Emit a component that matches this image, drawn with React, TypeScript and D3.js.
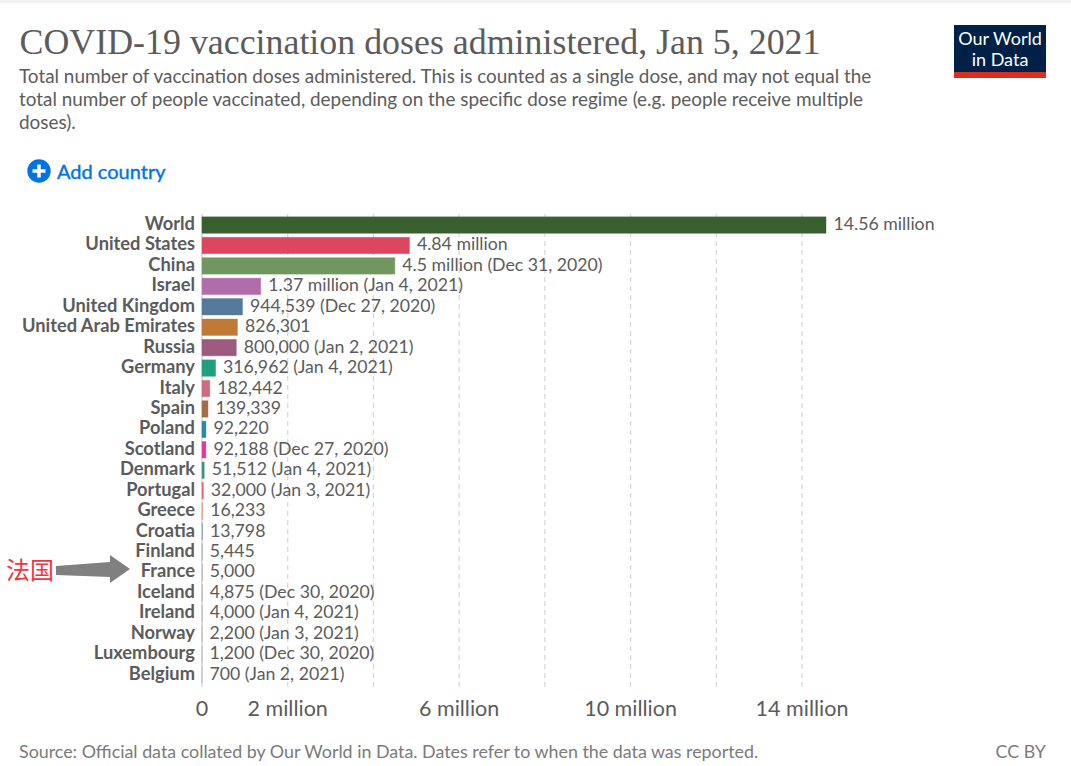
import React from "react";
import * as d3 from "d3";

const countries = ["World","United States","China","Israel","United Kingdom","United Arab Emirates","Russia","Germany","Italy","Spain","Poland","Scotland","Denmark","Portugal","Greece","Croatia","Finland","France","Iceland","Ireland","Norway","Luxembourg","Belgium"];
const doses = [14560000,4840000,4500000,1370000,944539,826301,800000,316962,182442,139339,92220,92188,51512,32000,16233,13798,5445,5000,4875,4000,2200,1200,700];
const doseLabels = ["14.56 million","4.84 million","4.5 million","1.37 million","944,539","826,301","800,000","316,962","182,442","139,339","92,220","92,188","51,512","32,000","16,233","13,798","5,445","5,000","4,875","4,000","2,200","1,200","700"];
const dates = ["","","Dec 31, 2020","Jan 4, 2021","Dec 27, 2020","","Jan 2, 2021","Jan 4, 2021","","","","Dec 27, 2020","Jan 4, 2021","Jan 3, 2021","","","","","Dec 30, 2020","Jan 4, 2021","Jan 3, 2021","Dec 30, 2020","Jan 2, 2021"];
const colors = ["#38602f","#de4660","#71965f","#b16daa","#54799b","#c07a36","#9c5a7e","#219e7d","#cf6a80","#a86a48","#2c85ab","#d83f9c","#3f8f80","#e8607a","#d99a78","#7f93c0","#999","#999","#999","#999","#999","#999","#999"];
const tickValues = [0,2e6,6e6,10e6,14e6];
const tickLabels = ["0","2 million","6 million","10 million","14 million"];
const gridValues = [2e6,4e6,6e6,8e6,10e6,12e6,14e6];
const subtitle = [
  "Total number of vaccination doses administered. This is counted as a single dose, and may not equal the",
  "total number of people vaccinated, depending on the specific dose regime (e.g. people receive multiple",
  "doses).",
];

const LATO = "Lato, sans-serif";
const GREY = "#5b5b5b";

export default function App() {
  const x = d3.scaleLinear().domain([0, 14e6]).range([202, 802]);
  const y = d3.scalePoint<string>().domain(countries).range([224.05, 673.55]);
  const barH = 16.4;
  const arrow = d3.line()([[56,566],[110,562],[110,555],[130,569],[110,583],[110,577],[56,575]]) + "Z";
  return (
    <svg width={1071} height={766} style={{ position: "absolute", left: 0, top: 0, background: "#fff" }} fontFamily={LATO}>
      <rect x={0} y={0} width={1071} height={3} fill="#f2f2f2" />
      <text x={19.5} y={54} fontFamily="'Liberation Serif', serif" fontSize={36} fill={GREY} textLength={801} lengthAdjust="spacingAndGlyphs">COVID-19 vaccination doses administered, Jan 5, 2021</text>
      {subtitle.map((s, i) => (
        <text key={i} x={19} y={82.5 + i * 23} fontSize={18.9} fill={GREY}>{s}</text>
      ))}
      <rect x={954} y={25} width={92} height={53} fill="#002147" />
      <rect x={954} y={72} width={92} height={6} fill="#dc2e1f" />
      <text textAnchor="middle" fontSize={18} fill="#fff">
        <tspan x={1000} y={45}>Our World</tspan>
        <tspan x={1000} y={65.7}>in Data</tspan>
      </text>
      <circle cx={39} cy={171} r={11.7} fill="#0073e6" />
      <path d="M39 164.5V177.5M32.5 171H45.5" stroke="#fff" strokeWidth={3.5} />
      <text x={57} y={178.5} fontSize={20} fill="#0073e6" stroke="#0073e6" strokeWidth={0.4}>Add country</text>

      {gridValues.map((v) => (
        <line key={v} x1={x(v)} x2={x(v)} y1={214} y2={687} stroke="#d8d8d8" strokeWidth={1.3} strokeDasharray="5,4" />
      ))}
      <line x1={x(0)} x2={x(0)} y1={214} y2={687} stroke="#cfcfcf" strokeWidth={1.3} />
      {countries.map((c, i) => {
        const cy = y(c)!;
        const bw = x(doses[i]) - x(0);
        return (
          <g key={c}>
            <text x={195} y={cy + 6} textAnchor="end" fontSize={18.3} fontWeight={700} fill={GREY}>{c}</text>
            <rect x={x(0)} y={cy + 1 - barH / 2} width={bw} height={barH} fill={colors[i]} stroke={colors[i]} strokeOpacity={0.5} strokeWidth={0.8} />
            <text x={x(doses[i]) + 7.5} y={cy + 6} fontSize={17.7} fill={GREY}>
              {doseLabels[i]}{dates[i] ? ` (${dates[i]})` : ""}
            </text>
          </g>
        );
      })}
      {tickValues.map((v, i) => (
        <text key={v} x={x(v)} y={716} textAnchor="middle" fontSize={21.5} fill={GREY}>{tickLabels[i]}</text>
      ))}
      <text x={19} y={757.5} fontSize={17.85} fill="#7a7a7a">Source: Official data collated by Our World in Data. Dates refer to when the data was reported.</text>
      <text x={1046} y={757.5} textAnchor="end" fontSize={17.85} fill="#7a7a7a">CC BY</text>
      <text x={6} y={579} fontFamily="'Noto Sans CJK SC', sans-serif" fontSize={24} fill="#f5333f">法国</text>
      <path d={arrow} fill="#808080" />
    </svg>
  );
}
